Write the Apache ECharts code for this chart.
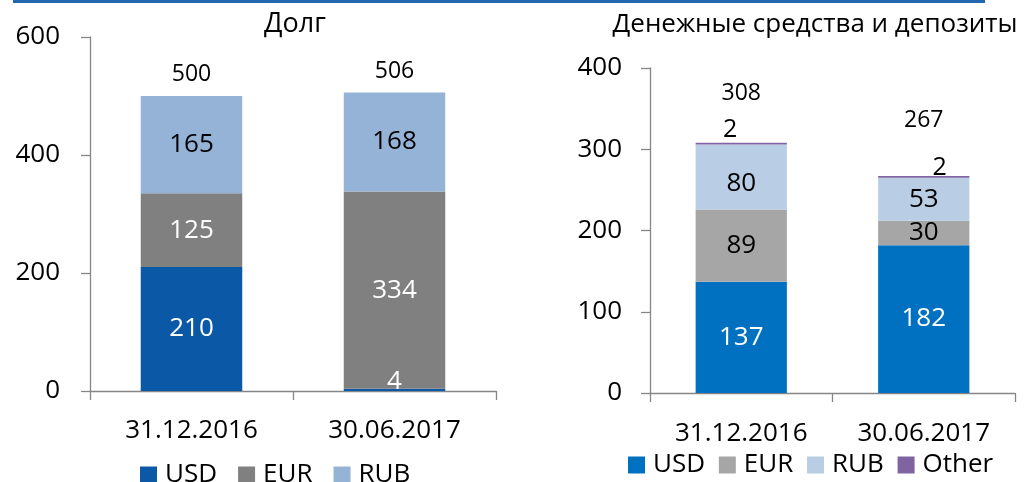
<!DOCTYPE html>
<html>
<head>
<meta charset="utf-8">
<script src="https://cdn.jsdelivr.net/npm/echarts@6/dist/echarts.min.js"></script>
<style>
  html, body { margin: 0; padding: 0; background: #fff; }
  #main { width: 1025px; height: 482px; }
</style>
</head>
<body>
<div id="main"></div>
<script>
// Долг (левый график)
const dates = ["31.12.2016", "30.06.2017"];
const debtUsd = [210, 4];
const debtEur = [125, 334];
const debtRub = [165, 168];
const debtTotal = [500, 506];

// Денежные средства и депозиты (правый график)
const cashUsd = [137, 182];
const cashEur = [89, 30];
const cashRub = [80, 53];
const cashOther = [2, 2];
const cashTotal = [308, 267];

const FONT = "Open Sans";
const axisGray = "#868686";

const chart = echarts.init(document.getElementById("main"));

const yAxisBase = {
  type: "value",
  min: 0,
  axisLine: { show: true, lineStyle: { color: axisGray, width: 1.3 } },
  axisTick: { show: true, length: 9, lineStyle: { color: axisGray, width: 1.3 } },
  splitLine: { show: false },
  axisLabel: { color: "#000", fontSize: 26, fontFamily: FONT, margin: 30 },
};
const xAxisBase = {
  type: "category",
  data: dates,
  axisLine: { lineStyle: { color: axisGray, width: 1.3 } },
  axisTick: { show: true, length: 9, lineStyle: { color: axisGray, width: 1.3 } },
  axisLabel: { color: "#000", fontSize: 26, fontFamily: FONT, margin: 27 },
};

const inLabel = (color) => ({
  show: true,
  position: "inside",
  color: color,
  fontSize: 26,
  fontFamily: FONT,
});

const legendText = { fontSize: 26, color: "#000", fontFamily: FONT, padding: [0, 0, 0, 3] };

const options = {
  animation: false,
  textStyle: { fontFamily: FONT },
  graphic: [
    {
      type: "rect",
      shape: { x: 13, y: 0, width: 972, height: 3 },
      style: { fill: "#2566b0" },
    },
  ],
  title: [
    {
      text: "Долг",
      left: 290,
      top: 6,
      textAlign: "center",
      textStyle: { fontSize: 27, fontWeight: "normal", color: "#000", fontFamily: FONT },
    },
    {
      text: "Денежные средства и депозиты",
      left: 810,
      top: 7,
      textAlign: "center",
      textStyle: { fontSize: 26, fontWeight: "normal", color: "#000", fontFamily: FONT },
    },
  ],
  legend: [
    {
      left: 140,
      top: 462,
      padding: 0,
      itemWidth: 17,
      itemHeight: 17,
      itemGap: 21,
      icon: "rect",
      data: ["USD", "EUR", "RUB"].map((n) => ({ name: n })),
      textStyle: legendText,
      selectedMode: false,
    },
    {
      left: 628,
      top: 452,
      padding: 0,
      itemWidth: 17,
      itemHeight: 17,
      itemGap: 7,
      icon: "rect",
      data: ["USD ", "EUR ", "RUB ", "Other"].map((n) => ({ name: n })),
      textStyle: legendText,
      selectedMode: false,
    },
  ],
  grid: [
    { left: 90, right: 529, top: 37, bottom: 91 },
    { left: 650, right: 10, top: 68, bottom: 89 },
  ],
  xAxis: [
    Object.assign({}, xAxisBase, { gridIndex: 0 }),
    Object.assign({}, xAxisBase, {
      gridIndex: 1,
      axisLabel: Object.assign({}, xAxisBase.axisLabel, { margin: 28 }),
    }),
  ],
  yAxis: [
    Object.assign({}, yAxisBase, { gridIndex: 0, max: 600, interval: 200 }),
    Object.assign({}, yAxisBase, {
      gridIndex: 1, max: 400, interval: 100,
      axisLabel: Object.assign({}, yAxisBase.axisLabel, { margin: 28 }),
    }),
  ],
  series: [
    // левый
    {
      name: "USD", type: "bar", stack: "debt", xAxisIndex: 0, yAxisIndex: 0,
      barWidth: "50%",
      data: debtUsd.map((v, i) => ({ value: v, label: { offset: [0, i === 1 ? -8 : 0] } })),
      itemStyle: { color: "#0b58a6" },
      label: inLabel("#fff"),
    },
    {
      name: "EUR", type: "bar", stack: "debt", xAxisIndex: 0, yAxisIndex: 0,
      barWidth: "50%", data: debtEur, itemStyle: { color: "#808080" },
      label: inLabel("#fff"),
    },
    {
      name: "RUB", type: "bar", stack: "debt", xAxisIndex: 0, yAxisIndex: 0,
      barWidth: "50%", data: debtRub, itemStyle: { color: "#95b3d7" },
      label: inLabel("#000"),
    },
    {
      name: "debtTotal", type: "bar", xAxisIndex: 0, yAxisIndex: 0,
      barWidth: "50%", barGap: "-100%", data: debtTotal,
      itemStyle: { color: "rgba(0,0,0,0)" }, silent: true,
      label: { show: true, position: "top", distance: 10, color: "#000", fontSize: 23, fontFamily: FONT },
    },
    // правый
    {
      name: "USD ", type: "bar", stack: "cash", xAxisIndex: 1, yAxisIndex: 1,
      barWidth: "50%", data: cashUsd, itemStyle: { color: "#0070c0" },
      label: inLabel("#fff"),
    },
    {
      name: "EUR ", type: "bar", stack: "cash", xAxisIndex: 1, yAxisIndex: 1,
      barWidth: "50%", data: cashEur, itemStyle: { color: "#a6a6a6" },
      label: inLabel("#000"),
    },
    {
      name: "RUB ", type: "bar", stack: "cash", xAxisIndex: 1, yAxisIndex: 1,
      barWidth: "50%",
      data: cashRub.map((v, i) => ({ value: v, label: { offset: [0, i === 0 ? 7 : 0] } })),
      itemStyle: { color: "#b9cde5" },
      label: inLabel("#000"),
    },
    {
      name: "Other", type: "bar", stack: "cash", xAxisIndex: 1, yAxisIndex: 1,
      barWidth: "50%",
      data: cashOther.map((v, i) => ({
        value: v,
        label: { offset: i === 0 ? [-11, 0] : [16, 4] },
      })),
      itemStyle: { color: "#8064a2" },
      label: { show: true, position: "top", distance: 0, color: "#000", fontSize: 25, fontFamily: FONT },
    },
    {
      name: "cashTotal", type: "bar", xAxisIndex: 1, yAxisIndex: 1,
      barWidth: "50%", barGap: "-100%",
      data: cashTotal.map((v, i) => ({
        value: v,
        label: { distance: i === 0 ? 38 : 44 },
      })),
      itemStyle: { color: "rgba(0,0,0,0)" }, silent: true,
      label: { show: true, position: "top", color: "#000", fontSize: 23, fontFamily: FONT },
    },
  ],
};

chart.setOption(options);
</script>
</body>
</html>
